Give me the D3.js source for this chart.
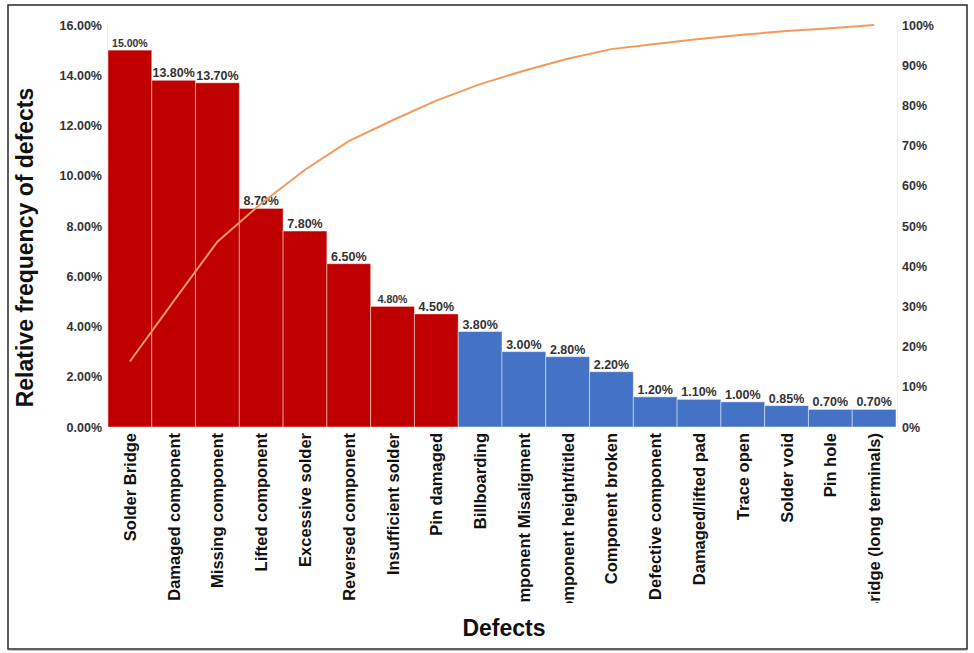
<!DOCTYPE html>
<html>
<head>
<meta charset="utf-8">
<script src="https://cdn.jsdelivr.net/npm/d3@7"></script>
<style>
  html, body { margin: 0; padding: 0; background: #fff; }
  svg { display: block; font-family: "Liberation Sans", Arial, Helvetica, sans-serif; }
</style>
</head>
<body>
<svg id="chart" width="974" height="653"></svg>
<script>
const categories = ["Solder Bridge", "Damaged component", "Missing component", "Lifted component",
  "Excessive solder", "Reversed component", "Insufficient solder", "Pin damaged", "Billboarding",
  "Component Misaligment", "Component height/titled", "Component broken", "Defective component",
  "Damaged/lifted pad", "Trace open", "Solder void", "Pin hole", "Bridge (long terminals)"];
const frequency = [15.00, 13.80, 13.70, 8.70, 7.80, 6.50, 4.80, 4.50, 3.80, 3.00, 2.80, 2.20, 1.20, 1.10, 1.00, 0.85, 0.70, 0.70];
const cumulative = [16.3, 31.3, 46.1, 55.6, 64.0, 71.1, 76.3, 81.2, 85.3, 88.6, 91.6, 94.0, 95.3, 96.5, 97.6, 98.5, 99.2, 100.0];
const group = ["major","major","major","major","major","major","major","major","minor","minor","minor","minor","minor","minor","minor","minor","minor","minor"];
const leftTicks = [0, 2, 4, 6, 8, 10, 12, 14, 16];
const rightTicks = [0, 10, 20, 30, 40, 50, 60, 70, 80, 90, 100];
const smallLabels = ["15.00%", "4.80%"];

const svg = d3.select("#chart");
const plot = { left: 108, right: 896, top: 25, bottom: 427 };

// frame
svg.append("rect").attr("x", 8).attr("y", 5).attr("width", 959).attr("height", 644)
  .attr("fill", "none").attr("stroke", "#2a2a2a").attr("stroke-width", 1.5);
svg.append("line").attr("x1", 8).attr("x2", 967).attr("y1", 650.5).attr("y2", 650.5)
  .attr("stroke", "#c8c8c8").attr("stroke-width", 1);

const x = d3.scaleBand().domain(categories).range([plot.left, plot.right]).padding(0);
const y = d3.scaleLinear().domain([0, 16]).range([plot.bottom, plot.top]);
const y2 = d3.scaleLinear().domain([0, 100]).range([plot.bottom, plot.top]);

const color = d3.scaleOrdinal().domain(["major", "minor"]).range(["#c00000", "#4472c4"]);

// axis lines (faint)
svg.append("line").attr("x1", plot.left - 0.5).attr("x2", plot.left - 0.5)
  .attr("y1", plot.top).attr("y2", plot.bottom).attr("stroke", "#eeeeee");
svg.append("line").attr("x1", plot.right + 1.5).attr("x2", plot.right + 1.5)
  .attr("y1", plot.top).attr("y2", plot.bottom).attr("stroke", "#eeeeee");

// left axis
const yAxis = d3.axisLeft(y).tickValues(leftTicks).tickSize(0).tickPadding(6)
  .tickFormat(d => d.toFixed(2) + "%");
const gy = svg.append("g").attr("transform", `translate(${plot.left},0)`).call(yAxis);
gy.select(".domain").remove();
gy.selectAll("text").attr("font-size", 12.5).attr("font-weight", "bold").attr("fill", "#333")
  .attr("font-family", "Liberation Sans, Arial, sans-serif");

// right axis
const y2Axis = d3.axisRight(y2).tickValues(rightTicks).tickSize(0).tickPadding(6)
  .tickFormat(d => d + "%");
const gy2 = svg.append("g").attr("transform", `translate(${plot.right},0)`).call(y2Axis);
gy2.select(".domain").remove();
gy2.selectAll("text").attr("font-size", 12.5).attr("font-weight", "bold").attr("fill", "#333")
  .attr("font-family", "Liberation Sans, Arial, sans-serif");

// bars
const data = categories.map((c, i) => ({ c, v: frequency[i], g: group[i], cum: cumulative[i] }));
svg.append("g").selectAll("rect").data(data).join("rect")
  .attr("x", d => x(d.c))
  .attr("y", d => y(d.v))
  .attr("width", x.bandwidth())
  .attr("height", d => y(0) - y(d.v))
  .attr("fill", d => color(d.g))
  .attr("stroke", "rgba(255,255,255,0.45)")
  .attr("stroke-width", 1);

// bar labels
svg.append("g").selectAll("text").data(data).join("text")
  .attr("x", d => x(d.c) + x.bandwidth() / 2)
  .attr("y", d => y(d.v) - 3)
  .attr("text-anchor", "middle")
  .attr("font-weight", "bold")
  .attr("fill", "#333")
  .attr("font-size", d => smallLabels.includes(d.v.toFixed(2) + "%") && (d.v === 15 || d.v === 4.8) ? 10.5 : 12.5)
  .text(d => d.v.toFixed(2) + "%");

// cumulative line
const line = d3.line().x(d => x(d.c) + x.bandwidth() / 2).y(d => y2(d.cum));
svg.append("path").datum(data).attr("d", line)
  .attr("fill", "none").attr("stroke", "#f29a5c").attr("stroke-width", 2);

// x labels (clipped)
svg.append("clipPath").attr("id", "xclip").append("rect")
  .attr("x", 0).attr("y", plot.bottom).attr("width", 974).attr("height", 603 - plot.bottom);
const gx = svg.append("g").attr("clip-path", "url(#xclip)");
gx.selectAll("text").data(categories).join("text")
  .attr("transform", d => `translate(${x(d) + x.bandwidth() / 2 + 6},${plot.bottom + 6}) rotate(-90)`)
  .attr("text-anchor", "end")
  .attr("font-size", 16.5)
  .attr("font-weight", "bold")
  .attr("fill", "#111")
  .text(d => d);

// axis titles
svg.append("text")
  .attr("transform", `translate(33,${(88 + 407) / 2}) rotate(-90)`)
  .attr("text-anchor", "middle")
  .attr("font-size", 23).attr("font-weight", "bold").attr("fill", "#111")
  .text("Relative frequency of defects");
svg.append("text")
  .attr("x", 504).attr("y", 636)
  .attr("text-anchor", "middle")
  .attr("font-size", 23).attr("font-weight", "bold").attr("fill", "#111")
  .text("Defects");
</script>
</body>
</html>
